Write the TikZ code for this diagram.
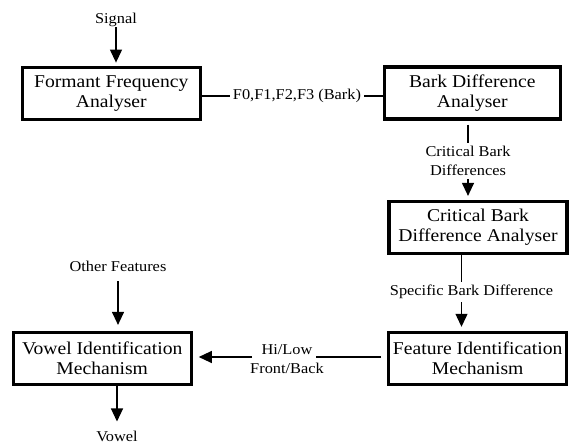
\documentclass[tikz,border=0pt]{standalone}
\usepackage{fontspec}
\setmainfont{Liberation Serif}[FakeStretch=1.09]
\usepackage{tikz}
\usetikzlibrary{arrows.meta}
\usetikzlibrary{backgrounds}
\usetikzlibrary{positioning}
\newcommand{\stagefont}{\fontsize{18}{20}\selectfont}
\newcommand{\flowfont}{\fontsize{15}{19}\selectfont}

\begin{document}
\begin{tikzpicture}[x=1pt, y=-1pt]

    \tikzstyle{stage} = [draw, line width=3.2pt, rectangle, minimum height=52pt, minimum width=178pt, inner sep=3pt, align=center, font=\stagefont];
    \tikzstyle{flow}  = [align=center, inner sep=3pt, font=\flowfont];
    \tikzstyle{wire}  = [line width=1.2pt];
    \tikzstyle{feed}  = [line width=1.2pt, -{Triangle[length=13pt, width=12pt]}, shorten >=4pt];

    \useasboundingbox (0,0) rectangle (569,443);

    %
    % Analysers
    %
    \node[stage] (ffa)  at (111.3,93.2) {Formant Frequency\\Analyser};
    \node[stage, minimum width=176pt] (bda) at (472.3,93) {Bark Difference\\Analyser};
    \node[stage] (cbda) at (478,227.5) {Critical Bark\\Difference Analyser};

    %
    % Mechanisms
    %
    \node[stage] (fim)  at (477.7,358.4) {Feature Identification\\Mechanism};
    \node[stage] (vim)  at (102.2,358.5) {Vowel Identification\\Mechanism};

    %
    % Flow labels
    %
    \node[flow, inner sep=0pt] (signal) at (116,20) {Signal};
    \node[flow] (bark)   at (297,96)    {F0,F1,F2,F3 (Bark)};
    \node[flow] (crit)   at (468,161)   {Critical Bark\\Differences};
    \node[flow] (spec)   at (471.5,292) {Specific Bark Difference};
    \node[flow] (hilo)   at (287,359)   {Hi/Low\\Front/Back};
    \node[flow] (other)  at (118,266)   {Other Features};
    \node[flow] (vowel)  at (117,436)   {Vowel};

    \coordinate (hilo-r) at (316,357);
    \coordinate (hilo-l) at (252,357);

    \begin{scope}[on background layer]
        \draw[feed, shorten >=3pt] (signal.south) to (signal.south |- ffa.north);

        % Bark path
        \draw[wire] (ffa.east |- bark.west) to (bark.west);
        \draw[wire] (bark.east) to (bark.east -| bda.west);
        \draw[wire, shorten <=4pt] (crit.north |- bda.south) to (crit.north);
        \draw[feed] (crit.south) to (crit.south |- cbda.north);
        \draw[wire] ([xshift=-10pt]spec.north |- cbda.south) to ([xshift=-10pt]spec.north);
        \draw[feed] ([xshift=-10pt]spec.south) to ([xshift=-10pt]spec.south |- fim.north);

        % Feature arrows
        \draw[wire, shorten <=6pt] (fim.west |- hilo-r) to (hilo-r);
        \draw[feed, shorten >=6pt] (hilo-l) to (hilo-l -| vim.east);
        \draw[feed, shorten <=7pt, shorten >=6pt] (other.south) to (other.south |- vim.north);
        \draw[feed, shorten >=6pt] (vim.south -| vowel.north) to (vowel.north);
    \end{scope}
\end{tikzpicture}
\end{document}
